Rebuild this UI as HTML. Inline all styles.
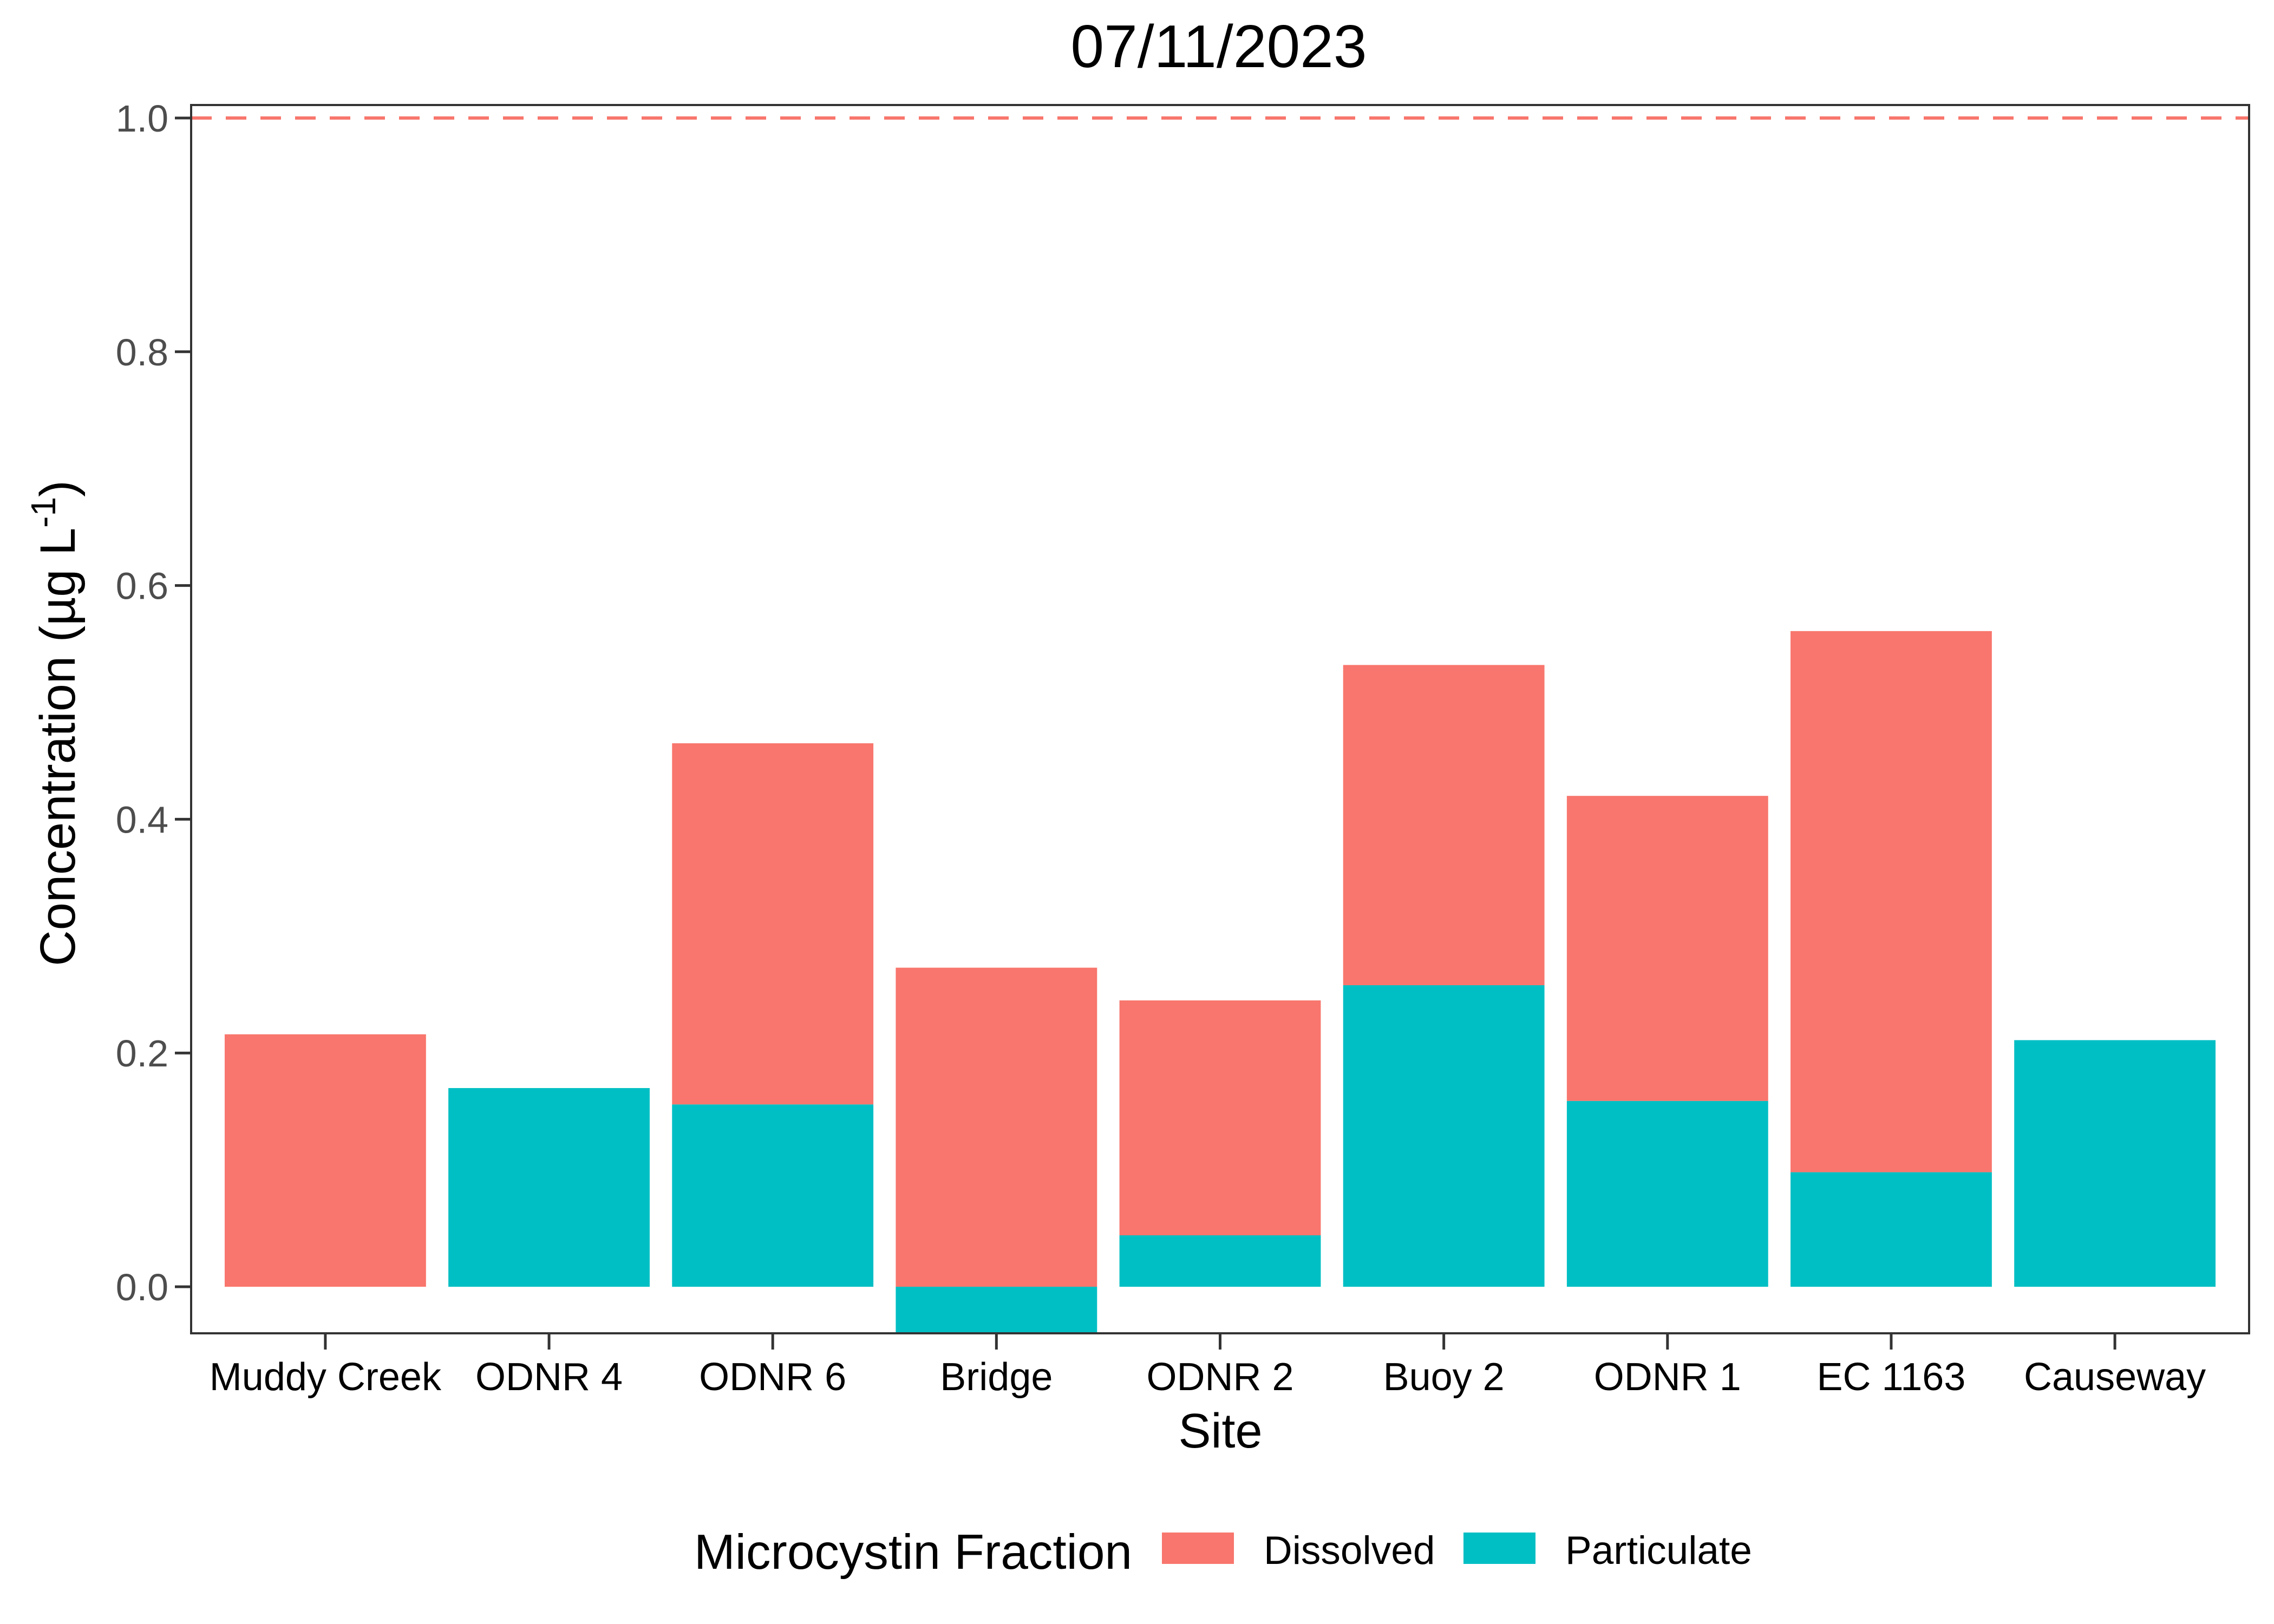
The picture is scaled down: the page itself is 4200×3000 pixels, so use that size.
<!DOCTYPE html>
<html><head><meta charset="utf-8">
<style>
html,body{margin:0;padding:0;background:#fff;}
svg{display:block;font-family:"Liberation Sans",Arial,sans-serif;}
</style></head>
<body>
<svg id="chart" width="4200" height="3000" viewBox="0 0 4200 3000" xmlns="http://www.w3.org/2000/svg">
<rect x="0" y="0" width="4200" height="3000" fill="#fff"/>
<text x="2251" y="124" font-size="111" text-anchor="middle" fill="#000">07/11/2023</text>
<g id="bars"></g>
<line x1="353" x2="4154" y1="218" y2="218" stroke="#F8766D" stroke-width="6" stroke-dasharray="38,26"/>
<rect x="353" y="194" width="3801" height="2269" fill="none" stroke="#333" stroke-width="4"/>
<g id="yaxis"></g>
<g id="xaxis"></g>
<text x="2254" y="2674" font-size="90" text-anchor="middle" fill="#000">Site</text>
<text transform="translate(138,1336) rotate(-90)" font-size="92" text-anchor="middle" fill="#000">Concentration (µg L<tspan dy="-36" font-size="64">-1</tspan><tspan dy="36">)</tspan></text>
<g>
<text x="1282" y="2898" font-size="91" fill="#000">Microcystin Fraction</text>
<rect x="2146" y="2831" width="133" height="58" fill="#F8766D"/>
<text x="2334" y="2889" font-size="73" fill="#000">Dissolved</text>
<rect x="2703" y="2831" width="133" height="58" fill="#00BFC4"/>
<text x="2891" y="2889" font-size="73" fill="#000">Particulate</text>
</g>
</svg>
<script>
const sites = ["Muddy Creek","ODNR 4","ODNR 6","Bridge","ODNR 2","Buoy 2","ODNR 1","EC 1163","Causeway"];
const particulate = [0, 0.17, 0.156, -0.04, 0.044, 0.258, 0.159, 0.098, 0.211];
const dissolved = [0.216, 0, 0.309, 0.273, 0.201, 0.274, 0.261, 0.463, 0];
const yTicks = [0.0, 0.2, 0.4, 0.6, 0.8, 1.0];
const yTickLabels = ["0.0","0.2","0.4","0.6","0.8","1.0"];

const NS = "http://www.w3.org/2000/svg";
const panelL = 353, panelR = 4154, panelT = 194, panelB = 2463;
const y0px = 2377, pxPerUnit = 2159;
function yScale(v){ return Math.min(panelB, y0px - v * pxPerUnit); }
const step = (panelR - panelL) / (sites.length + 0.2);
function xScale(i){ return panelL + step * 0.6 + i * step; }
const barW = step * 0.9;

function mk(tag, attrs){ const e = document.createElementNS(NS, tag); for (const k in attrs) e.setAttribute(k, attrs[k]); return e; }

const bars = document.getElementById('bars');
sites.forEach((s, i) => {
  const cx = xScale(i);
  const p = particulate[i], d = dissolved[i];
  const dBase = p > 0 ? p : 0, dTop = dBase + d;
  if (p !== 0) {
    const r = mk('rect', {x: cx - barW/2, y: Math.min(yScale(0), yScale(p)), width: barW, height: Math.abs(yScale(0) - yScale(p)), fill: '#00BFC4'});
    
    
    bars.appendChild(r);
  }
  if (d !== 0) {
    const r = mk('rect', {x: cx - barW/2, y: yScale(dTop), width: barW, height: yScale(dBase) - yScale(dTop), fill: '#F8766D'});
    
    
    bars.appendChild(r);
  }
});

const yaxis = document.getElementById('yaxis');
yTicks.forEach((v, i) => {
  const y = yScale(v);
  const t = mk('line', {x1: panelL - 30, x2: panelL, y1: y, y2: y, stroke: '#333', 'stroke-width': 5});
  
  
  yaxis.appendChild(t);
  const l = mk('text', {x: panelL - 42, y: y + 25, 'font-size': 70, 'text-anchor': 'end', fill: '#4D4D4D'});
  l.textContent = yTickLabels[i];
  
  
  yaxis.appendChild(l);
});

const xaxis = document.getElementById('xaxis');
sites.forEach((s, i) => {
  const x = xScale(i);
  const t = mk('line', {x1: x, x2: x, y1: panelB, y2: panelB + 30, stroke: '#333', 'stroke-width': 5});
  
  
  xaxis.appendChild(t);
  const l = mk('text', {x: x, y: 2568, 'font-size': 72, 'text-anchor': 'middle', fill: '#000'});
  l.textContent = s;
  
  
  xaxis.appendChild(l);
});
</script>
</body></html>
